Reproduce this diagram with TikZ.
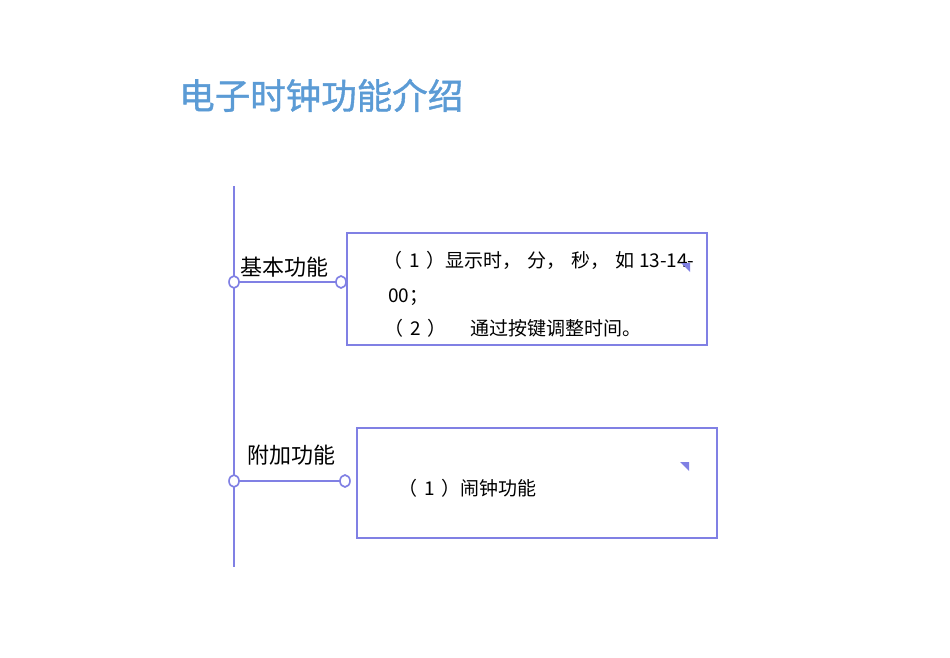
\documentclass[tikz,border=0pt]{standalone}
\usepackage{fontspec}
\usetikzlibrary{shapes.geometric}
\setmainfont{Noto Sans CJK SC}
\newfontfamily\cjk{Noto Sans CJK SC}
\newfontfamily\cjktitle[FakeBold=1.2]{Noto Sans CJK SC}
\definecolor{lineblue}{RGB}{128,128,228}
\definecolor{titleblue}{RGB}{91,155,213}
\newcommand{\numpar}[1]{（\hspace{7pt}#1\hspace{7pt}）}
\newcommand{\wcomma}{，\hspace{6pt}}
\begin{document}
\begin{tikzpicture}[x=1pt,y=-1pt,
  conn/.style={draw=lineblue,line width=2pt},
  knob/.style={draw=lineblue,line width=1.6pt,fill=white,ellipse,minimum width=10pt,minimum height=12pt,inner sep=0pt},
  infobox/.style={draw=lineblue,line width=1.8pt,fill=none,inner sep=0pt},
  lbl/.style={font=\cjk\fontsize{22}{24}\selectfont,inner sep=0pt,anchor=base west,text=black},
  bodytxt/.style={font=\cjk\fontsize{19}{21}\selectfont,inner sep=0pt,anchor=base west,text=black},
  cornermark/.style={fill=lineblue,draw=none}]
\useasboundingbox (0,0) rectangle (950,658);
\node[font=\cjktitle\fontsize{35.5}{40}\selectfont,text=titleblue,inner sep=0pt,anchor=base west] (title) at (179,109) {电子时钟功能介绍};
% spine
\coordinate (top) at (234,186);
\coordinate (bot) at (234,567);
\draw[conn] (top) -- (bot);
% box 1
\node[infobox,minimum width=360pt,minimum height=112pt,anchor=north west] (box1) at (346,232) {};
\coordinate (s1) at (234,282);
\coordinate (e1) at (341,282);
\draw[conn] (s1) -- (e1);
\node[knob] (k1a) at (s1) {};
\node[knob] (k1b) at (e1) {};
\node[lbl] (l1) at (240,275) {基本功能};
\node[bodytxt] (t1) at (383,267) {\numpar{1}显示时\wcomma 分\wcomma 秒\wcomma 如 13-14-};
\node[bodytxt] (t2) at (388,302) {00；};
\node[bodytxt] (t3) at (384,335) {\numpar{2}\hspace{24pt}通过按键调整时间。};
\path[cornermark] (681,263) -- (690,263) -- (690,272) -- cycle;
% box 2
\node[infobox,minimum width=360pt,minimum height=110pt,anchor=north west] (box2) at (356,427) {};
\coordinate (s2) at (234,481);
\coordinate (e2) at (345,481);
\draw[conn] (s2) -- (e2);
\node[knob] (k2a) at (s2) {};
\node[knob] (k2b) at (e2) {};
\node[lbl] (l2) at (247,463) {附加功能};
\node[bodytxt] (t4) at (398,495) {\numpar{1}闹钟功能};
\path[cornermark] (680,462) -- (689,462) -- (689,471) -- cycle;
\end{tikzpicture}
\end{document}
